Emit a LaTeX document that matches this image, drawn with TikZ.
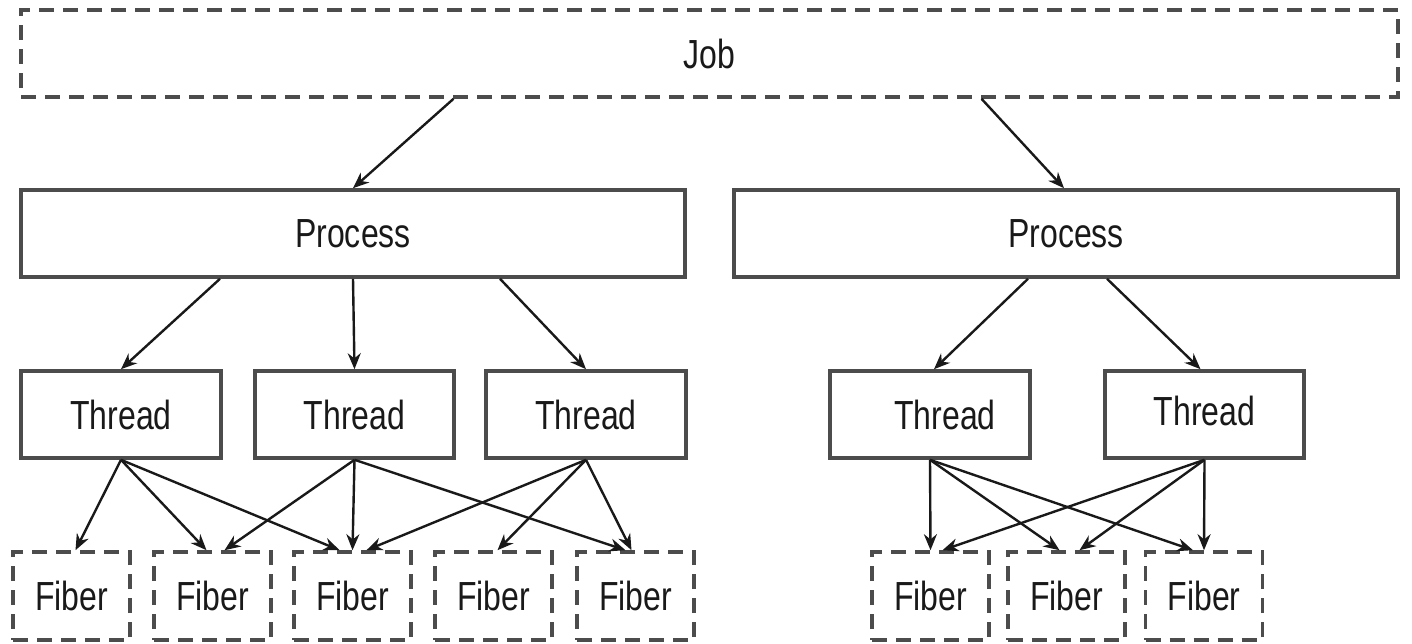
\documentclass[tikz,border=0pt]{standalone}
\usepackage{fontspec}
\setmainfont{Liberation Sans}
\usetikzlibrary{arrows.meta,calc}
\newcommand{\vst}[1]{\scalebox{1}[1.27]{#1}}
\tikzset{
  box/.style={draw=black!70, line width=1.8pt, rectangle, inner sep=0pt,
    font=\fontsize{16}{19}\selectfont, text=black!90},
  dbox/.style={box, dash pattern=on 7.5pt off 4.5pt},
  arr/.style={line width=1.2pt, black!90, -{Stealth[length=8pt,width=6.5pt]}}
}
\begin{document}
\begin{tikzpicture}[x=0.5pt,y=-0.5pt]
\useasboundingbox (0,0) rectangle (1412,643);
% Job
\node[dbox, minimum width=688.5pt, minimum height=43.5pt] (job) at (709.5,53.5) {\vst{Job}};
% Processes
\node[box, minimum width=332pt, minimum height=43.5pt] (pl) at (353,233.5) {\vst{Process}};
\node[box, minimum width=332pt, minimum height=43.5pt] (pr) at (1066,233.5) {\vst{Process}};
% Threads
\node[box, minimum width=100pt, minimum height=43.5pt] (t1) at (121,414.5) {\vst{Thread}};
\node[box, minimum width=99.5pt, minimum height=43.5pt] (t2) at (354.5,414.5) {\vst{Thread}};
\node[box, minimum width=100pt, minimum height=43.5pt] (t3) at (586,414.5) {\vst{Thread}};
\node[box, minimum width=100pt, minimum height=43.5pt] (t4) at (930,414.5) {\hspace*{15pt}\vst{Thread}};
\node[box, minimum width=99.5pt, minimum height=43.5pt] (t5) at (1204.5,414.5) {\raisebox{3.5pt}{\vst{Thread}}};
% Fibers
\foreach \n/\x in {f1/71.5,f2/212.5,f3/352.5,f4/493.5,f5/635.5,f6/930.5,f7/1066.5,f8/1204}
  \node[dbox, minimum width=58.5pt, minimum height=44pt] (\n) at (\x,596) {\vst{Fiber}};
% Job -> Process
\draw[arr] ($(job.south)+(-256,0)$) -- (pl.north);
\draw[arr] ($(job.south)+(272,0)$) -- ($(pr.north)+(-2,0)$);
% Process -> Thread
\draw[arr] ($(pl.south)+(-133,0)$) -- (t1.north);
\draw[arr] (pl.south) -- (t2.north);
\draw[arr] ($(pl.south)+(147,0)$) -- (t3.north);
\draw[arr] ($(pr.south)+(-38,0)$) -- ($(t4.north)+(4,0)$);
\draw[arr] ($(pr.south)+(41,0)$) -- ($(t5.north)+(-4,0)$);
% Thread -> Fiber (left)
\draw[arr] (t1.south) -- ($(f1.north)+(4,0)$);
\draw[arr] (t1.south) -- ($(f2.north)+(-6,0)$);
\draw[arr] (t1.south) -- ($(f3.north)+(-13,0)$);
\draw[arr] (t2.south) -- ($(f2.north)+(12,0)$);
\draw[arr] (t2.south) -- (f3.north);
\draw[arr] (t2.south) -- ($(f5.north)+(-10,0)$);
\draw[arr] (t3.south) -- ($(f3.north)+(14,0)$);
\draw[arr] (t3.south) -- ($(f4.north)+(4,0)$);
\draw[arr] (t3.south) -- ($(f5.north)+(-4,0)$);
% Thread -> Fiber (right)
\draw[arr] (t4.south) -- (f6.north);
\draw[arr] (t4.south) -- ($(f7.north)+(-7,0)$);
\draw[arr] (t4.south) -- ($(f8.north)+(-11,0)$);
\draw[arr] (t5.south) -- ($(f6.north)+(12,0)$);
\draw[arr] (t5.south) -- ($(f7.north)+(13,0)$);
\draw[arr] (t5.south) -- (f8.north);
\end{tikzpicture}
\end{document}
